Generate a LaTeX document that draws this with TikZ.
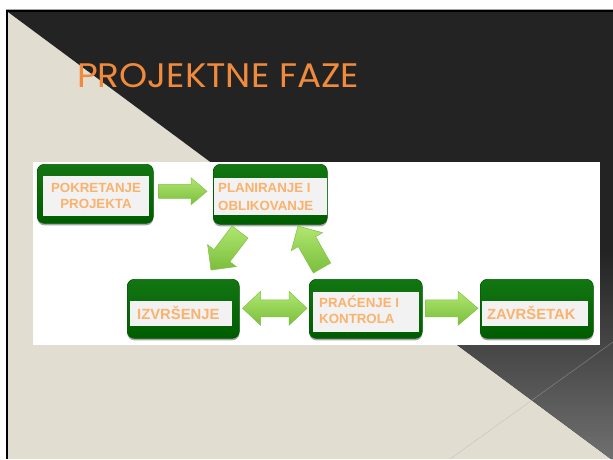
\documentclass[tikz,border=0pt]{standalone}
\usepackage{fontspec}
\setmainfont{Liberation Sans}
\newfontfamily\titlefont{Poppins}
\usetikzlibrary{calc,shadows}
\definecolor{beige}{RGB}{226,221,209}
\definecolor{darkbg}{RGB}{35,35,35}
\definecolor{lowbg}{RGB}{112,112,112}
\definecolor{titleor}{RGB}{240,138,60}
\definecolor{boxtxt}{RGB}{250,178,108}
\definecolor{gtop}{RGB}{18,118,18}
\definecolor{gbot}{RGB}{0,92,0}
\definecolor{innerg}{RGB}{242,242,242}
\definecolor{atop}{RGB}{176,230,112}
\definecolor{abot}{RGB}{122,190,60}
\definecolor{aedge}{RGB}{128,194,68}
\newcommand\blockarr[5]{%
  \path[arrowsty] ($(#1)!#3!90:(#2)$) -- ($(#2)!#5!(#1)!#3!-90:(#1)$) -- ($(#2)!#5!(#1)!#4!-90:(#1)$) -- (#2) -- ($(#2)!#5!(#1)!#4!90:(#1)$) -- ($(#2)!#5!(#1)!#3!90:(#1)$) -- ($(#1)!#3!-90:(#2)$) -- cycle;}
\newcommand\dblarr[5]{%
  \path[arrowsty] (#1) -- ($(#1)!#5!(#2)!#4!90:(#2)$) -- ($(#1)!#5!(#2)!#3!90:(#2)$) -- ($(#2)!#5!(#1)!#3!-90:(#1)$) -- ($(#2)!#5!(#1)!#4!-90:(#1)$) -- (#2) -- ($(#2)!#5!(#1)!#4!90:(#1)$) -- ($(#2)!#5!(#1)!#3!90:(#1)$) -- ($(#1)!#5!(#2)!#3!-90:(#2)$) -- ($(#1)!#5!(#2)!#4!-90:(#2)$) -- cycle;}
\begin{document}
\begin{tikzpicture}[x=1pt,y=-1pt,
  gbox/.style={rounded corners=7pt, top color=gtop, bottom color=gbot, draw=gbot, line width=0.6pt, anchor=north west, inner sep=0pt,
    drop shadow={shadow xshift=0pt, shadow yshift=-2pt, opacity=0.35, fill=black}},
  ibox/.style={fill=innerg, anchor=north west, inner sep=0pt},
  btxt/.style={text=boxtxt, font=\bfseries\fontsize{13.3}{16}\selectfont, inner sep=0pt},
  bbig/.style={text=boxtxt, font=\bfseries\fontsize{14.8}{17}\selectfont, inner sep=0pt},
  arrowsty/.style={top color=atop, bottom color=abot, draw=aedge, line width=0.5pt, line join=miter}]
\useasboundingbox (0,0) rectangle (613,459);
% background
\fill[white] (0,0) rectangle (613,459);
\draw[gray!70, line width=1pt] (6,9.5) -- (613,9.5);
\fill[black] (6,10) rectangle (613,459);
\fill[beige] (8,12) rectangle (613,459);
\fill[darkbg] (8,12) -- (613,12) -- (613,459) -- (611,459) -- cycle;
\begin{scope}
  \clip (8,12) -- (613,12) -- (613,459) -- (611,459) -- cycle;
  \shade[top color=darkbg, bottom color=lowbg] (0,250) rectangle (613,460);
\end{scope}
\draw[gray!60, line width=0.4pt, opacity=0.6] (613,342) -- (450,459);
% title
\node[anchor=base west, inner sep=0pt, text=titleor, font=\titlefont\fontsize{34}{40}\selectfont] (title) at (77,87) {\scalebox{1.053}[1]{PROJEKTNE FAZE}};
% panel
\fill[white] (33,162) rectangle (600,345);
% boxes
\node[gbox, minimum width=116pt, minimum height=59pt] (pok) at (37,164) {};
\node[ibox, minimum width=106pt, minimum height=40pt] (pokin) at (43,176) {};
\node[gbox, minimum width=114pt, minimum height=60pt] (plan) at (213,164) {};
\node[ibox, minimum width=113pt, minimum height=37pt] (planin) at (214,178) {};
\node[gbox, minimum width=112pt, minimum height=59pt] (izv) at (127,279) {};
\node[ibox, minimum width=102pt, minimum height=25pt] (izvin) at (130,301) {};
\node[gbox, minimum width=113pt, minimum height=59pt] (pra) at (309,279) {};
\node[ibox, minimum width=106pt, minimum height=40pt] (prain) at (313,292) {};
\node[gbox, minimum width=113pt, minimum height=59pt] (zav) at (480,279) {};
\node[ibox, minimum width=106pt, minimum height=25pt] (zavin) at (482,301) {};
% texts
\node[btxt, anchor=base] (t1a) at (96,192) {POKRETANJE};
\node[btxt, anchor=base] (t1b) at (96,208) {PROJEKTA};
\node[btxt, anchor=base west] (t2a) at (218,192) {PLANIRANJE I};
\node[btxt, anchor=base west] (t2b) at (218,210) {OBLIKOVANJE};
\node[bbig, anchor=base west] (t3) at (137,319) {IZVRŠENJE};
\node[btxt, anchor=base west] (t4a) at (319,307.5) {PRAĆENJE I};
\node[btxt, anchor=base west] (t4b) at (319,323.5) {KONTROLA};
\node[bbig, anchor=base west] (t5) at (487,319) {ZAVRŠETAK};
% arrows
\coordinate (a1s) at ($(pok.east)+(5,-2.5)$);
\coordinate (a1e) at ($(plan.west)+(-6,-3)$);
\coordinate (a2s) at (240,232);
\coordinate (a2e) at (211,270);
\coordinate (a3s) at (322,268);
\coordinate (a3e) at (298,226);
\coordinate (a4s) at ($(izv.east)+(3,-0.5)$);
\coordinate (a4e) at ($(pra.west)+(-2,-0.5)$);
\coordinate (a5s) at ($(pra.east)+(3,-0.5)$);
\coordinate (a5e) at ($(zav.west)+(-2,-0.5)$);
\blockarr{a1s}{a1e}{7pt}{13.5pt}{16pt}
\blockarr{a2s}{a2e}{10pt}{18pt}{18pt}
\blockarr{a3s}{a3e}{10pt}{18pt}{18pt}
\dblarr{a4s}{a4e}{8.5pt}{17pt}{18pt}
\blockarr{a5s}{a5e}{8.5pt}{17pt}{20pt}
\end{tikzpicture}
\end{document}
